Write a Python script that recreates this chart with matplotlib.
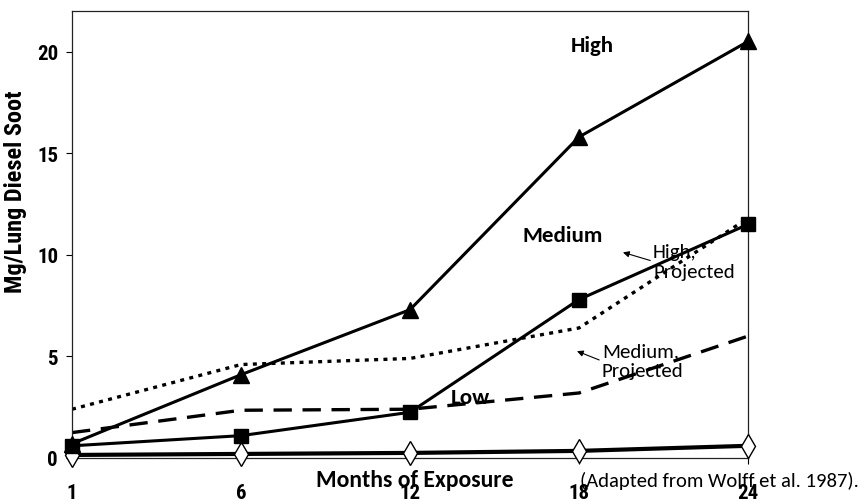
import matplotlib
matplotlib.use("Agg")
import matplotlib.pyplot as plt
from matplotlib import font_manager

# Data: lung burden of diesel soot (mg/lung) by months of exposure
months = ["1", "6", "12", "18", "24"]
high = [0.7, 4.1, 7.3, 15.8, 20.5]
medium = [0.6, 1.1, 2.25, 7.8, 11.5]
low = [0.15, 0.2, 0.25, 0.35, 0.6]
high_projected = [2.4, 4.6, 4.9, 6.4, 11.8]
medium_projected = [1.25, 2.35, 2.4, 3.2, 6.0]
y_ticks = [0, 5, 10, 15, 20]

installed = {f.name for f in font_manager.fontManager.ttflist}


def first_font(candidates, default="DejaVu Sans"):
    for name in candidates:
        if name in installed:
            return name
    return default


narrow = first_font(["Liberation Sans Narrow", "Arimo Narrow", "Roboto Condensed",
                     "PT Sans Narrow", "Archivo Narrow"])
body = first_font(["Carlito", "Calibri", "Lato"])

fig = plt.figure(figsize=(8.68, 5.02), dpi=100)
ax = fig.add_axes([72 / 868, 1 - 459 / 502, (748 - 72) / 868, (459 - 12) / 502])

x = list(range(len(months)))

ax.plot(x, high_projected, color="black", lw=2.4, linestyle=(0, (1.2, 1.6)),
        dash_capstyle="butt", zorder=2)
ax.plot(x, medium_projected, color="black", lw=2.4, linestyle=(0, (5.5, 3.2)),
        dash_capstyle="butt", zorder=2)
ax.plot(x, low, color="black", lw=3, marker="d", ms=12, mfc="white",
        mec="black", mew=1, clip_on=False, zorder=3)
ax.plot(x, medium, color="black", lw=2.2, marker="s", ms=10,
        clip_on=False, zorder=4)
ax.plot(x, high, color="black", lw=2.2, marker="^", ms=12,
        clip_on=False, zorder=4)

ax.set_xlim(0, len(months) - 1)
ax.set_ylim(0, 22)
ax.set_xticks(x)
ax.set_xticklabels(months)
ax.set_yticks(y_ticks)
ax.set_yticklabels([str(v) for v in y_ticks])

for s in ax.spines.values():
    s.set_linewidth(0.9)
    s.set_color("#222222")

ax.tick_params(axis="y", direction="out", length=4, width=0.8, pad=6,
               labelsize=15)
ax.tick_params(axis="x", direction="out", length=4, width=0.8, pad=14,
               labelsize=15)
for lab in ax.get_xticklabels() + ax.get_yticklabels():
    lab.set_fontfamily(narrow)
    lab.set_fontweight("bold")

ax.set_ylabel("Mg/Lung Diesel Soot", fontfamily=narrow, fontweight="bold",
              fontsize=17.5, labelpad=4)
ax.yaxis.set_label_coords(-0.066, 0.597)

# Series labels
label_kw = dict(fontfamily=body, fontweight="bold", fontsize=16.5,
                ha="center", va="center")
ax.text(3.077, 20.34, "High", **label_kw)
ax.text(2.905, 10.96, "Medium", **label_kw)
ax.text(2.355, 3.0, "Low", **label_kw)

arrow = dict(arrowstyle="-|>", color="black", lw=0.8, mutation_scale=9,
             shrinkA=0, shrinkB=0)
ax.annotate("High,\nProjected", xy=(3.26, 10.12), xytext=(3.438, 9.68),
            fontfamily=body, fontsize=15, ha="left", va="center",
            linespacing=1.2, arrowprops=dict(arrow, relpos=(0, 0.5)))
ax.annotate("Medium,\nProjected", xy=(2.988, 5.26), xytext=(3.136, 4.77),
            fontfamily=body, fontsize=15, ha="left", va="center",
            linespacing=1.2, arrowprops=dict(arrow, relpos=(0, 0.5)))

fig.text(414.5 / 868, 1 - 481 / 502, "Months of Exposure", fontfamily=body,
         fontweight="bold", fontsize=17, ha="center", va="center")
fig.text(580 / 868, 1 - 481 / 502, "(Adapted from Wolff et al. 1987).",
         fontfamily=body, fontsize=14.9, ha="left", va="center")

fig.savefig("out.png", dpi=100)
